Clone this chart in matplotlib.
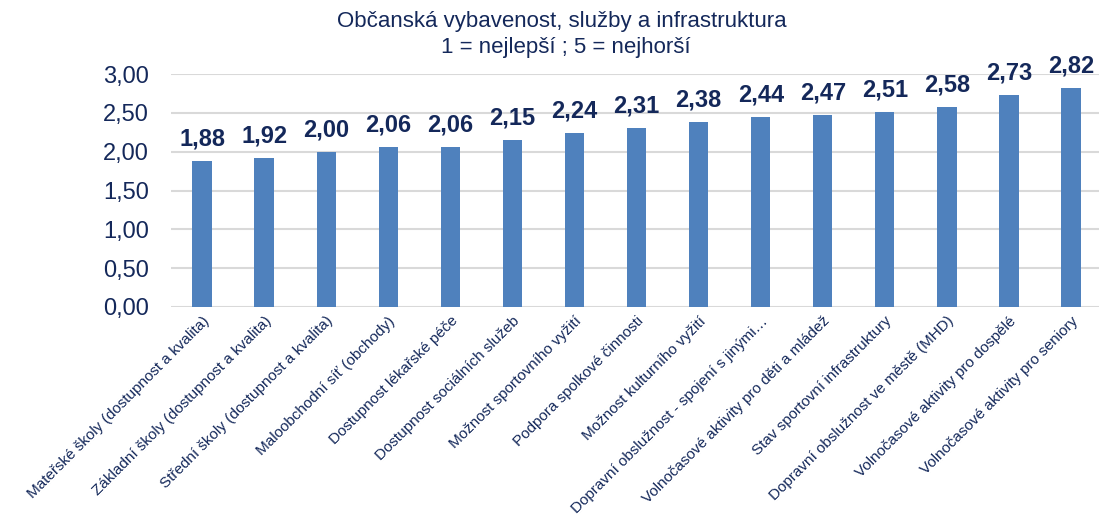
import matplotlib
matplotlib.use("Agg")
import matplotlib.pyplot as plt

categories = [
    "Mateřské školy (dostupnost a kvalita)",
    "Základní školy (dostupnost a kvalita)",
    "Střední školy (dostupnost a kvalita)",
    "Maloobchodní síť (obchody)",
    "Dostupnost lékařské péče",
    "Dostupnost sociálních služeb",
    "Možnost sportovního vyžití",
    "Podpora spolkové činnosti",
    "Možnost kulturního vyžití",
    "Dopravní obslužnost - spojení s jinými…",
    "Volnočasové aktivity pro děti a mládež",
    "Stav sportovní infrastruktury",
    "Dopravní obslužnost ve městě (MHD)",
    "Volnočasové aktivity pro dospělé",
    "Volnočasové aktivity pro seniory",
]
values = [1.88, 1.92, 2.00, 2.06, 2.06, 2.15, 2.24, 2.31, 2.38, 2.44, 2.47, 2.51, 2.58, 2.73, 2.82]
yticks = [0, 0.5, 1.0, 1.5, 2.0, 2.5, 3.0]

plt.rcParams['font.family'] = ['Liberation Sans', 'DejaVu Sans']
text_color = '#14285A'
bar_color = '#4F81BD'

W, H = 1099, 522
fig = plt.figure(figsize=(W / 100, H / 100), dpi=100)
ax = fig.add_axes([171 / W, 1 - 307 / H, 1 - 171 / W, (307 - 74) / H])

x = list(range(len(values)))
ax.bar(x, values, width=0.31, color=bar_color, zorder=3)
for xi, v in zip(x, values):
    ax.text(xi, v + 0.2, f"{v:.2f}".replace('.', ','), ha='center', va='baseline',
            fontsize=17, fontweight='bold', color=text_color, clip_on=False)

ax.set_ylim(0, 3.0)
ax.set_xlim(-0.5, 14.45)
ax.set_yticks(yticks)
ax.set_yticklabels([f"{t:.2f}".replace('.', ',') for t in yticks], fontsize=17, color=text_color)
ax.yaxis.grid(True, color='#D9D9D9', linewidth=1.5, zorder=0)
ax.set_axisbelow(True)
ax.tick_params(axis='y', length=0, pad=16)
ax.tick_params(axis='x', length=0, pad=5)
ax.set_xticks(x)
ax.set_xticklabels(categories, rotation=45, ha='right', rotation_mode='anchor',
                   fontsize=11, color=text_color)
for s in ax.spines.values():
    s.set_visible(False)

fig.text(562 / W, 1 - 21 / H, "Občanská vybavenost, služby a infrastruktura", ha='center', va='center',
         fontsize=16, color=text_color)
fig.text(566 / W, 1 - 47 / H, "1 = nejlepší ; 5 = nejhorší", ha='center', va='center',
         fontsize=16, color=text_color)

fig.savefig("out.png", dpi=100)
